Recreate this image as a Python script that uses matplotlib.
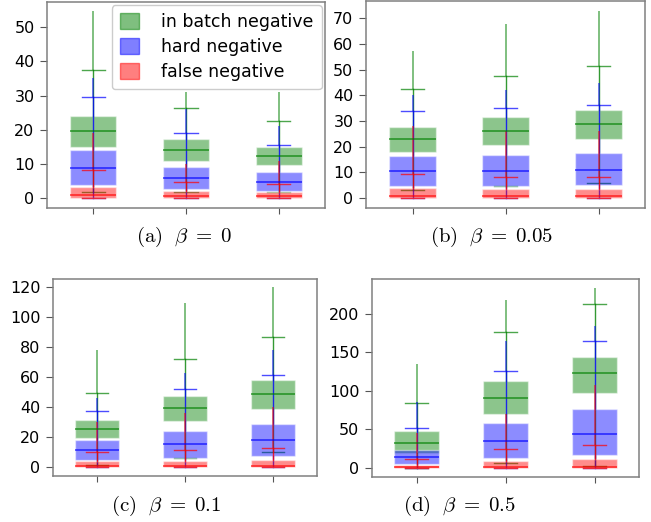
import numpy as np
import matplotlib.pyplot as plt
from matplotlib.patches import Patch
from matplotlib.ticker import MultipleLocator

plt.rcParams['mathtext.fontset'] = 'cm'

# panels: beta = 0, 0.05, 0.1, 0.5 ; three groups per panel
betas = ["0", "0.05", "0.1", "0.5"]
letters = ["a", "b", "c", "d"]
labels = ["in batch negative", "hard negative", "false negative"]
colors = ["green", "blue", "red"]

# in batch negative
ib_q1 = [[15.1, 11.0, 9.6], [17.8, 20.7, 22.9], [19.6, 30.8, 38.8], [20.0, 70.0, 97.6]]
ib_med = [[19.7, 14.1, 12.4], [23.0, 26.3, 28.7], [25.4, 39.3, 48.6], [32.4, 90.7, 122.7]]
ib_q3 = [[24.1, 17.2, 15.0], [27.8, 31.5, 34.5], [31.5, 47.3, 58.0], [48.4, 113.2, 143.8]]
ib_lo = [[1.8, 1.9, 1.9], [3.1, 4.6, 5.8], [1.8, 6.0, 10.3], [0.5, 6.0, 2.0]]
ib_hi = [[37.6, 26.4, 22.5], [42.6, 47.5, 51.4], [49.3, 72.3, 87.0], [84.2, 176.7, 212.5]]
ib_max = [[54.8, 31.0, 31.0], [57.5, 68.0, 73.0], [78.0, 109.5, 120.0], [135.0, 218.0, 234.0]]

# hard negative
hn_q1 = [[3.9, 2.7, 2.3], [4.5, 4.5, 4.9], [4.9, 6.5, 7.8], [5.2, 13.0, 16.4]]
hn_med = [[9.0, 5.9, 4.9], [10.5, 10.7, 11.0], [11.4, 15.4, 18.1], [14.3, 35.4, 44.1]]
hn_q3 = [[14.1, 9.3, 7.7], [16.4, 16.8, 17.4], [18.1, 24.5, 29.0], [23.8, 58.7, 76.5]]
hn_lo = [[0, 0, 0], [0, 0, 0], [0, 0, 0], [0, 0, 0]]
hn_hi = [[29.6, 19.0, 15.7], [33.8, 34.9, 36.4], [37.7, 52.0, 61.8], [51.4, 126.1, 165.4]]
hn_max = [[35.0, 26.0, 21.0], [40.0, 42.0, 45.0], [46.0, 63.0, 78.0], [86.0, 165.0, 185.0]]

# false negative
fn_q1 = [[0, 0, 0], [0, 0, 0], [0, 0, 0], [0, 0, 0]]
fn_med = [[1.0, 0.8, 0.8], [0.8, 0.8, 0.8], [0.7, 0.7, 0.7], [1.3, 0.9, 0.9]]
fn_q3 = [[3.3, 2.2, 1.9], [3.9, 3.5, 3.5], [4.0, 4.5, 4.7], [4.3, 9.5, 11.7]]
fn_lo = [[0, 0, 0], [0, 0, 0], [0, 0, 0], [0, 0, 0]]
fn_hi = [[8.2, 4.7, 4.2], [9.3, 8.1, 8.3], [10.0, 11.8, 12.7], [12.1, 24.6, 29.4]]
fn_max = [[19.0, 10.0, 11.0], [28.0, 26.0, 26.0], [30.0, 36.0, 40.0], [45.0, 70.0, 108.0]]

series = [
    (ib_q1, ib_med, ib_q3, ib_lo, ib_hi, ib_max),
    (hn_q1, hn_med, hn_q3, hn_lo, hn_hi, hn_max),
    (fn_q1, fn_med, fn_q3, fn_lo, fn_hi, fn_max),
]

W, H = 651, 522
# axes boxes in pixels: left, top, right, bottom
rects = [(47, 2, 325, 208), (366, 1, 645, 208), (53, 279, 317, 476), (372, 279, 639, 477)]
ylims = [(-2.8, 57.3), (-3.9, 76.8), (-5.8, 125.6), (-11.7, 245.4)]
ysteps = [10, 10, 20, 50]
captions_xy = [(184, 237), (492, 237), (166, 506), (459, 506)]

fig = plt.figure(figsize=(W / 100, H / 100), dpi=100)
pos = [1, 2, 3]

for p in range(4):
    l, t, r, b = rects[p]
    ax = fig.add_axes([l / W, 1 - b / H, (r - l) / W, (b - t) / H])
    for s, (q1, med, q3, lo, hi, mx) in enumerate(series):
        c = colors[s]
        stats = []
        for g in range(3):
            stats.append(dict(q1=q1[p][g], med=med[p][g], q3=q3[p][g],
                              whislo=lo[p][g], whishi=hi[p][g], fliers=[]))
        ax.bxp(stats, positions=pos, widths=0.5, patch_artist=True, showfliers=False,
               boxprops=dict(facecolor=c, alpha=0.45, edgecolor='white', linewidth=1),
               medianprops=dict(color=c, alpha=0.7, linewidth=1.2),
               whiskerprops=dict(color=c, alpha=0.8, linewidth=1),
               capprops=dict(color=c, alpha=0.7, linewidth=1))
        # dense flier column above the upper whisker
        ax.vlines(pos, [hi[p][g] for g in range(3)], [mx[p][g] for g in range(3)],
                  colors=c, linewidth=1.4, alpha=0.5)
    ax.set_xlim(0.5, 3.5)
    ax.set_ylim(*ylims[p])
    ax.yaxis.set_major_locator(MultipleLocator(ysteps[p]))
    ax.set_xticks(pos)
    ax.set_xticklabels([])
    ax.tick_params(axis='y', labelsize=11.5, length=5, pad=4, color='#555555')
    ax.tick_params(axis='x', length=4, color='#555555')
    for sp in ax.spines.values():
        sp.set_color('#808080')
        sp.set_linewidth(1.1)
    if p == 0:
        handles = [Patch(facecolor=c, edgecolor=c, alpha=0.5) for c in colors]
        ax.legend(handles, labels, loc='upper right', fontsize=12.5, handlelength=1.1,
                  handleheight=1.05, handletextpad=1.3, labelspacing=0.4,
                  borderaxespad=0.2, borderpad=0.45, framealpha=1, edgecolor='#cccccc')
    cx, cy = captions_xy[p]
    fig.text(cx / W, 1 - cy / H,
             r"$\mathrm{(%s)}\ \ \beta\;=\;%s$" % (letters[p], betas[p]),
             ha='center', va='center', fontsize=15)

fig.savefig("out.png", dpi=100)
